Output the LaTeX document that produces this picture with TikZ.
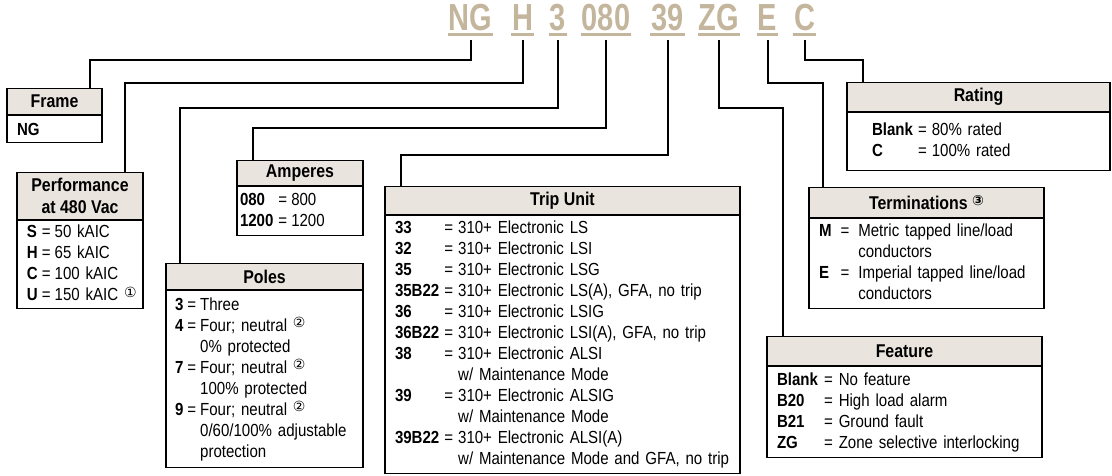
\documentclass[tikz,border=0pt]{standalone}
\usepackage{fontspec}
\setmainfont{Liberation Sans}[FakeStretch=0.86]
\newfontfamily\codefont{Liberation Sans}[FakeStretch=0.77]
\newfontfamily\circfont{DejaVu Sans}
\usetikzlibrary{positioning}
\definecolor{codetan}{RGB}{196,182,156}
\definecolor{headfill}{RGB}{233,229,222}
\newcommand{\bodyfont}{\fontsize{17.5}{21}\selectfont}
\newcommand{\headfont}{\fontsize{18.5}{22}\selectfont\bfseries}
\newcommand{\circnum}[1]{\raisebox{3.5pt}{\circfont\fontsize{14}{14}\selectfont #1}}

\begin{document}
\begin{tikzpicture}[
    x=1pt, y=-1pt,
    code/.style={text=codetan, font=\codefont\bfseries\fontsize{37.7}{40}\selectfont, anchor=base, inner xsep=1pt},
    head/.style={draw, fill=headfill, line width=1.2pt, anchor=north, font=\headfont, inner sep=0pt, align=center},
    list/.style={draw, line width=1.2pt, anchor=north, align=left, inner ysep=0pt, font=\bodyfont},
    link/.style={line width=2pt},
]
    \useasboundingbox (0,0) rectangle (1112,475);

    % Catalog number
    \node[code] (cNG) at (470.5,30) {NG};
    \node[code] (cH) at (522.5,30) {H};
    \node[code] (c3) at (558,30) {3};
    \node[code] (c080) at (606,30) {080};
    \node[code] (c39) at (667.5,30) {39};
    \node[code] (cZG) at (719,30) {ZG};
    \node[code] (cE) at (767.5,30) {E};
    \node[code] (cC) at (804.5,30) {C};
    \foreach \c in {cNG,cH,c3,c080,c39,cZG,cE,cC}
        \draw[codetan, line width=3pt] ([yshift=-4pt]\c.base west) -- ([yshift=-4pt]\c.base east);

    % Frame
    \node[head, minimum width=95pt, minimum height=26pt] (frame) at (54.5,88) {Frame};
    \node[list, text width=75pt, inner xsep=10pt, minimum height=27pt] (framelist) at (frame.south) {\textbf{NG}};

    % Performance
    \node[head, minimum width=126pt, minimum height=47pt] (perf) at (80,172) {Performance\\at 480 Vac};
    \node[list, text width=106pt, inner xsep=10pt, minimum height=88pt] (perflist) at (perf.south) {%
        \begin{tabular}{@{}l@{\hspace{4pt}}l@{\hspace{4pt}}l@{}}
        \textbf{S} & = & 50 kAIC\\
        \textbf{H} & = & 65 kAIC\\
        \textbf{C} & = & 100 kAIC\\
        \textbf{U} & = & 150 kAIC \circnum{①}
        \end{tabular}};

    % Amperes
    \node[head, minimum width=126pt, minimum height=25pt] (amps) at (300,160) {Amperes};
    \node[list, text width=120pt, inner xsep=3pt, minimum height=49pt] (ampslist) at (amps.south) {%
        \begin{tabular}{@{}l@{\hspace{5pt}}l@{\hspace{4pt}}l@{}}
        \textbf{080} & = & 800\\
        \textbf{1200} & = & 1200
        \end{tabular}};

    % Poles
    \node[head, minimum width=197pt, minimum height=26pt] (poles) at (264.5,263) {Poles};
    \node[list, text width=179pt, inner xsep=9pt, minimum height=177pt] (poleslist) at (poles.south) {%
        \begin{tabular}{@{}l@{\hspace{4pt}}l@{\hspace{4pt}}l@{}}
        \textbf{3} & = & Three\\
        \textbf{4} & = & Four; neutral \circnum{②}\\
                   &   & 0\% protected\\
        \textbf{7} & = & Four; neutral \circnum{②}\\
                   &   & 100\% protected\\
        \textbf{9} & = & Four; neutral \circnum{②}\\
                   &   & 0/60/100\% adjustable\\
                   &   & protection
        \end{tabular}};

    % Trip unit
    \node[head, minimum width=355pt, minimum height=28pt] (trip) at (562.5,186) {Trip Unit};
    \node[list, text width=335pt, inner xsep=10pt, minimum height=258pt] (triplist) at (trip.south) {%
        \begin{tabular}{@{}l@{\hspace{5pt}}l@{\hspace{5pt}}l@{}}
        \textbf{33} & = & 310+ Electronic LS\\
        \textbf{32} & = & 310+ Electronic LSI\\
        \textbf{35} & = & 310+ Electronic LSG\\
        \textbf{35B22} & = & 310+ Electronic LS(A), GFA, no trip\\
        \textbf{36} & = & 310+ Electronic LSIG\\
        \textbf{36B22} & = & 310+ Electronic LSI(A), GFA, no trip\\
        \textbf{38} & = & 310+ Electronic ALSI\\
                    &   & w/ Maintenance Mode\\
        \textbf{39} & = & 310+ Electronic ALSIG\\
                    &   & w/ Maintenance Mode\\
        \textbf{39B22} & = & 310+ Electronic ALSI(A)\\
                       &   & w/ Maintenance Mode and GFA, no trip
        \end{tabular}};

    % Rating
    \node[head, minimum width=263pt, minimum height=29pt] (rating) at (978.5,82) {Rating};
    \node[list, text width=213pt, inner xsep=25pt, minimum height=58pt] (ratinglist) at (rating.south) {%
        \begin{tabular}{@{}l@{\hspace{5pt}}l@{\hspace{5pt}}l@{}}
        \textbf{Blank} & = & 80\% rated\\
        \textbf{C} & = & 100\% rated
        \end{tabular}};

    % Terminations
    \node[head, minimum width=235pt, minimum height=30pt] (term) at (926.5,187) {Terminations \circnum{③}};
    \node[list, text width=215pt, inner xsep=10pt, minimum height=90pt] (termlist) at (term.south) {%
        \begin{tabular}{@{}l@{\hspace{9pt}}l@{\hspace{9pt}}l@{}}
        \textbf{M} & = & Metric tapped line/load\\
                   &   & conductors\\
        \textbf{E} & = & Imperial tapped line/load\\
                   &   & conductors
        \end{tabular}};

    % Feature
    \node[head, minimum width=275pt, minimum height=29pt] (feature) at (904.5,336) {Feature};
    \node[list, text width=255pt, inner xsep=10pt, minimum height=91pt] (featurelist) at (feature.south) {%
        \begin{tabular}{@{}l@{\hspace{6pt}}l@{\hspace{6pt}}l@{}}
        \textbf{Blank} & = & No feature\\
        \textbf{B20} & = & High load alarm\\
        \textbf{B21} & = & Ground fault\\
        \textbf{ZG} & = & Zone selective interlocking
        \end{tabular}};

    % Connections
    \draw[link] ([yshift=-10pt]cNG.base) -- ++(0,20) -| ([xshift=35.5pt]frame.north);
    \draw[link] ([yshift=-10pt]cH.base) -- ++(0,43) -| ([xshift=45pt]perf.north);
    \draw[link] ([yshift=-10pt]c3.base) -- ++(0,68) -| ([xshift=-84.5pt]poles.north);
    \draw[link] ([yshift=-10pt]c080.base) -- ++(0,88) -| ([xshift=-47pt]amps.north);
    \draw[link] ([yshift=-10pt]c39.base) -- ++(0,115) -| ([xshift=-161.5pt]trip.north);
    \draw[link] ([yshift=-10pt]cZG.base) -- ++(0,68) -| ([xshift=-121.5pt]feature.north);
    \draw[link] ([yshift=-10pt]cE.base) -- ++(0,43) -| ([xshift=-103.5pt]term.north);
    \draw[link] ([yshift=-10pt]cC.base) -- ++(0,20) -| ([xshift=-115.5pt]rating.north);

\end{tikzpicture}
\end{document}
